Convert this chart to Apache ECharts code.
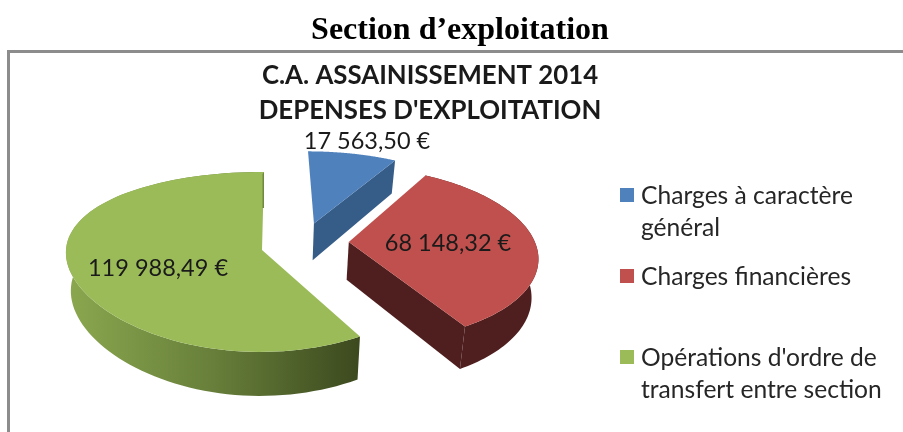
<!DOCTYPE html>
<html><head><meta charset="utf-8">
<style>html,body{margin:0;padding:0;background:#fff}#c{width:903px;height:432px}</style>
<script src="https://cdn.jsdelivr.net/npm/echarts@6/dist/echarts.min.js"></script>
</head><body><div id="c"></div>
<script>
const categories = ["Charges à caractère\ngénéral", "Charges financières", "Opérations d'ordre de\ntransfert entre section"];
const values = [17563.50, 68148.32, 119988.49];
const valueLabels = ["17 563,50 €", "68 148,32 €", "119 988,49 €"];
const topColors = ["#4F81BD", "#C0504D", "#9BBB59"];
const sideColors = ["#365C88", "#4F1E1E", "#4F1E1E"];

// perspective disc layout (camera model) and slice explosion offsets
const view = {x0: 262, yh: -413, A: 4972, D: 7.5, drop: 1.0575, shrink: 0.975};
const explode = [[0.277, -0.31], [0.45, -0.09], [0, 0]];
const lens = [{f: 1464, D: 7.5, shear: 0, r: 1}, {f: 1464, D: 7.5, shear: 0, r: 0.965}, {f: 9800, D: 50, shear: -2, r: 1}];
const labelPos = [[367, 141], [448, 243], [158, 268]];

const total = values.reduce((a, b) => a + b, 0);
const starts = []; let acc = 0;
values.forEach(v => { starts.push(acc / total * Math.PI * 2); acc += v; });

function proj(i, X, Z, low) {
  const L = lens[i];
  const x = L.f * X / (L.D - Z) + L.shear * Z, y = view.A / (view.D - Z);
  return low ? [view.x0 + x * view.shrink, view.yh + y * view.drop] : [view.x0 + x, view.yh + y];
}
function arc(i, a0, a1, low) {
  const pts = [], n = 90, [ex, ez] = explode[i];
  for (let k = 0; k <= n; k++) {
    const a = a0 + (a1 - a0) * k / n;
    pts.push(proj(i, ex + lens[i].r * Math.sin(a), ez - Math.cos(a), low));
  }
  return pts;
}
function renderSlice(i) {
  return function () {
    const a0 = starts[i], a1 = a0 + values[i] / total * Math.PI * 2;
    const [ex, ez] = explode[i];
    const apexT = proj(i, ex, ez, false), apexB = proj(i, ex, ez, true);
    const topArc = arc(i, a0, a1, false), lowArc = arc(i, a0, a1, true);
    const children = [];
    const sideFill = i === 2 ? {type: 'linear', x: 0, y: 0, x2: 1, y2: 0, colorStops: [
      {offset: 0, color: '#8BA84F'}, {offset: 0.5, color: '#677F3A'}, {offset: 1, color: '#3C491E'}]} : sideColors[i];
    if (i > 0) {
      children.push({type: 'polygon', shape: {points: topArc.concat(lowArc.slice().reverse())}, style: {fill: sideFill}});
    }
    // cut faces
    if (i < 2) {
      children.push({type: 'polygon', shape: {points: [apexT, topArc[topArc.length - 1], lowArc[lowArc.length - 1], apexB]}, style: {fill: sideColors[i]}});
    }
    children.push({type: 'polygon', shape: {points: [apexT].concat(topArc)}, style: {fill: topColors[i]}});
    if (i === 2) {
      const t = topArc[topArc.length - 1];
      children.push({type: 'polygon', shape: {points: [[t[0] - 1.5, t[1] + 2], t, [t[0], t[1] + 36], [t[0] - 1.5, t[1] + 36]]}, style: {fill: '#6F8A3C'}});
    }
    children.push({type: 'text', z2: 10, style: {x: labelPos[i][0], y: labelPos[i][1], text: valueLabels[i], align: 'center', verticalAlign: 'middle', font: '23.5px Lato', fill: '#1a1a1a'}});
    return {type: 'group', children};
  };
}
const chart = echarts.init(document.getElementById('c'), null, {renderer: 'canvas'});
chart.setOption({
  animation: false,
  backgroundColor: '#fff',
  title: [
    {text: 'Section d’exploitation', left: 455, top: 10, textAlign: 'center',
     textStyle: {fontFamily: 'Liberation Serif', fontWeight: 'bold', fontSize: 32, color: '#000'}},
    {text: "C.A. ASSAINISSEMENT 2014\nDEPENSES D'EXPLOITATION", left: 425, top: 53, textAlign: 'center',
     textStyle: {fontFamily: 'Lato', fontWeight: 'bold', fontSize: 25.8, lineHeight: 35, color: '#1a1a1a'}}
  ],
  legend: {
    orient: 'vertical', left: 615, top: 175, height: 255, itemWidth: 14, itemHeight: 48, itemGap: 17, align: 'left',
    icon: 'path://M0 0H14V14H0Z M0 48H0.01',
    selectedMode: false,
    formatter: n => n.indexOf('\n') < 0 ? n + '\n\u00a0' : n,
    textStyle: {fontFamily: 'Lato', fontSize: 24.6, lineHeight: 32, color: '#262626', padding: [0, 0, 0, 2]},
    data: categories
  },
  graphic: [
    {type: 'rect', shape: {x: 7, y: 50, width: 896, height: 3}, style: {fill: '#8C8C8C'}},
    {type: 'rect', shape: {x: 7, y: 50, width: 3, height: 382}, style: {fill: '#8C8C8C'}}
  ],
  series: categories.map((name, i) => ({
    type: 'custom', name, coordinateSystem: 'none', silent: true,
    itemStyle: {color: topColors[i]},
    renderItem: renderSlice(i),
    data: [values[i]]
  }))
});
</script></body></html>
